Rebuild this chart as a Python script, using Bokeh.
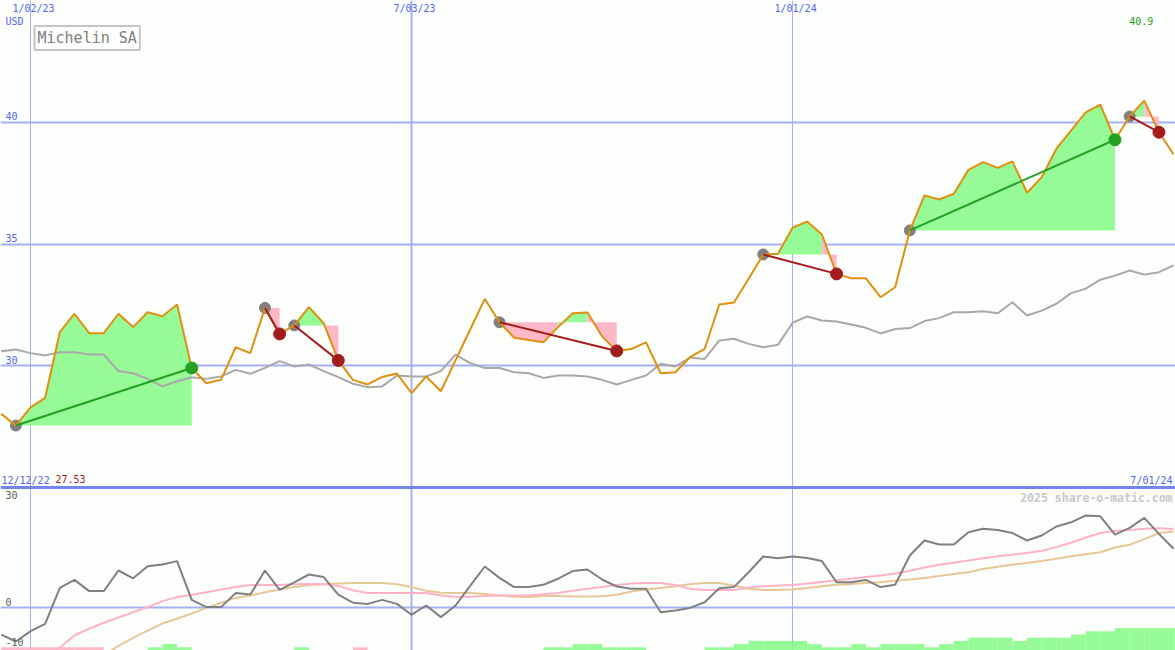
import numpy as np
import pandas as pd
from bokeh.plotting import figure
from bokeh.models import Range1d, Label
from bokeh.core.properties import value
from bokeh.embed import file_html
from bokeh.resources import INLINE

W, H = 1175, 650

# ---------------- data ----------------
start_date = "2022-12-19"
dates = pd.date_range(start_date, periods=81, freq="7D")

price = [28.01, 27.53, 28.28, 28.67, 31.37, 32.13, 31.33, 31.33, 32.13, 31.58,
         32.19, 32.03, 32.51, 29.90, 29.27, 29.41, 30.75, 30.51, 32.37, 31.30,
         31.65, 32.40, 31.74, 30.21, 29.41, 29.22, 29.53, 29.67, 28.86, 29.55,
         28.94, 30.21, 31.48, 32.74, 31.78, 31.14, 31.05, 30.96, 31.58, 32.15,
         32.18, 31.20, 30.60, 30.68, 30.95, 29.68, 29.72, 30.34, 30.68, 32.51,
         32.59, 33.57, 34.57, 34.60, 35.67, 35.93, 35.39, 33.77, 33.59, 33.59,
         32.81, 33.22, 35.56, 37.00, 36.83, 37.07, 38.05, 38.37, 38.13, 38.40,
         37.11, 37.75, 38.92, 39.67, 40.42, 40.74, 39.29, 40.25, 40.90, 39.60,
         38.68]

benchmark = [30.59, 30.66, 30.51, 30.41, 30.55, 30.55, 30.45, 30.45, 29.77, 29.68,
             29.45, 29.14, 29.35, 29.52, 29.45, 29.55, 29.82, 29.66, 29.90, 30.18,
             29.96, 30.04, 29.77, 29.52, 29.25, 29.11, 29.14, 29.59, 29.55, 29.55,
             29.77, 30.45, 30.10, 29.90, 29.90, 29.72, 29.68, 29.49, 29.59, 29.59,
             29.55, 29.41, 29.22, 29.41, 29.59, 30.07, 29.96, 30.33, 30.27, 31.03,
             31.10, 30.89, 30.75, 30.85, 31.76, 32.02, 31.85, 31.81, 31.69, 31.55,
             31.32, 31.50, 31.54, 31.83, 31.95, 32.19, 32.19, 32.23, 32.15, 32.60,
             32.06, 32.26, 32.54, 32.98, 33.16, 33.53, 33.70, 33.91, 33.74, 33.84,
             34.12]

oscillator = [-6.8, -8.5, -5.9, -4.1, 4.9, 6.9, 4.1, 4.1, 9.25, 7.3,
              10.3, 10.75, 11.6, 1.9, 0.1, 0.1, 3.6, 3.25, 9.25, 4.4,
              6.3, 8.25, 7.6, 3.2, 1.2, 0.9, 1.9, 0.9, -1.8, 0.5,
              -2.4, 0.5, 5.4, 10.25, 7.4, 5.1, 5.1, 5.7, 7.2, 9.1,
              9.5, 7.0, 5.25, 4.7, 4.7, -1.2, -0.75, -0.1, 1.3, 4.8,
              5.1, 8.8, 12.75, 12.3, 12.75, 12.4, 11.6, 6.3, 6.3, 6.9,
              5.1, 5.7, 13.0, 16.75, 15.75, 15.75, 18.8, 19.7, 19.4, 18.6,
              16.75, 18.0, 20.25, 21.3, 23.0, 22.8, 18.2, 19.9, 22.4, 18.4,
              14.7]

osc_ma_fast = [np.nan, np.nan, np.nan, -12.5, -10.0, -7.0, -5.3, -3.8, -2.5, -1.2,
               0.1, 1.6, 2.6, 3.1, 3.8, 4.5, 5.1, 5.6, 5.6, 5.6,
               5.8, 5.9, 5.9, 5.4, 4.3, 3.6, 3.6, 3.6, 3.6, 3.6,
               3.0, 2.7, 2.7, 2.9, 3.0, 3.0, 3.0, 3.3, 3.6, 4.2,
               4.7, 5.1, 5.6, 6.0, 6.1, 6.1, 5.6, 4.7, 4.4, 4.4,
               4.4, 5.0, 5.3, 5.5, 5.6, 6.0, 6.4, 6.8, 7.2, 7.6,
               8.0, 8.5, 9.2, 10.0, 10.7, 11.2, 11.75, 12.3, 12.8, 13.2,
               13.6, 14.2, 15.1, 16.2, 17.5, 18.6, 19.1, 19.4, 19.7, 19.8,
               19.6]

osc_ma_slow = [np.nan, np.nan, np.nan, np.nan, np.nan, np.nan, np.nan, -12.0, -9.6, -7.6,
               -5.8, -4.0, -2.8, -1.5, -0.1, 1.2, 2.4, 3.0, 3.8, 4.5,
               5.1, 5.6, 5.8, 6.0, 6.1, 6.1, 6.1, 5.8, 5.1, 4.2,
               3.7, 3.6, 3.6, 3.4, 3.0, 2.7, 2.6, 2.9, 2.9, 2.75,
               2.75, 2.8, 3.2, 4.0, 4.5, 4.9, 5.3, 5.8, 6.1, 6.1,
               5.5, 4.7, 4.4, 4.4, 4.5, 4.9, 5.3, 5.7, 5.9, 6.1,
               6.3, 6.7, 7.0, 7.4, 7.9, 8.4, 8.8, 9.6, 10.2, 10.7,
               11.1, 11.6, 12.2, 12.8, 13.3, 13.8, 15.0, 15.7, 17.1, 18.6,
               19.0]

signal_level = [-1, -1, -1, -1, -1, -1, -1, 0, 0, 0,
                1, 2, 1, 0, 0, 0, 0, 0, 0, 0,
                1, 0, 0, 0, -1, 0, 0, 0, 0, 0,
                0, 0, 0, 0, 0, 0, 0, 1, 1, 2,
                2, 1, 1, 1, 0, 0, 0, 0, 1, 1,
                2, 3, 3, 3, 3, 2, 1, 1, 2, 1,
                2, 2, 2, 1, 2, 3, 4, 4, 4, 3,
                4, 4, 4, 5, 6, 6, 7, 7, 7, 7,
                7]

trade_entry = [1, 18, 20, 34, 52, 62, 77]
trade_exit = [13, 19, 23, 42, 57, 76, 79]

price_ticks = [30, 35, 40]
price_tick_labels = ["30", "35", "40"]
osc_ticks = [0, -10]
osc_tick_labels = ["0", "-10"]
date_ticks = ["2023-01-02", "2023-07-03", "2024-01-01"]
date_tick_labels = ["1/02/23", "7/03/23", "1/01/24"]
period_labels = ["12/12/22", "7/01/24"]

# ---------------- style ----------------
BG = "#fcfefc"
GRID = "#a4b0f2"
SEP = "#7484ee"
BLUE_TXT = "#5564ee"
ORANGE = "#e09010"
BENCH = "#a8a8a8"
GREEN_FILL = "#96fa96"
PINK_FILL = "#ffb8c8"
WIN = "#23a023"
LOSS = "#a41c1c"
FONT = value("DejaVu Sans Mono")

DAY = 86400000
ms = (dates.asi8 // 10**6).tolist()
x0 = ms[0] - 8 * 3600 * 1000
x1 = ms[0] + int(560.9 * DAY)
tick_ms = (pd.to_datetime(date_ticks).asi8 // 10**6).tolist()

PANEL_SPLIT = 487          # pixel row of the separator
PRICE_TOP = 45.02
PRICE_BOT = PRICE_TOP - 20.04 * H / PANEL_SPLIT
OSC_TOP = 30 + 40.75 * PANEL_SPLIT / (H - PANEL_SPLIT)
SIG_TOP = H / 3.2

p = figure(width=W, height=H, x_range=Range1d(x0, x1),
           y_range=Range1d(PRICE_BOT, PRICE_TOP),
           output_backend="svg", toolbar_location=None, min_border=0,
           x_axis_location=None, y_axis_location=None,
           background_fill_color=BG, border_fill_color=BG,
           outline_line_color=None)
p.extra_y_ranges = {"osc": Range1d(-10.75, OSC_TOP), "sig": Range1d(0, SIG_TOP)}
p.grid.visible = False

# grid lines
p.hspan(y=price_ticks, line_color=GRID, line_width=2)
p.hspan(y=[0], line_color=GRID, line_width=2, y_range_name="osc")
for t, lw in zip(tick_ms, [1, 2, 1]):
    p.vspan(x=[t], line_color=GRID, line_width=lw)
p.hspan(y=[30], line_color=SEP, line_width=3, y_range_name="osc")

# signal bars (bottom strip)
bl, br, bt, bc = [], [], [], []
for k, lv in enumerate(signal_level):
    if lv != 0:
        bl.append(ms[k]); br.append(ms[k] + 7 * DAY); bt.append(abs(lv))
        bc.append(GREEN_FILL if lv > 0 else PINK_FILL)
p.quad(left=bl, right=br, bottom=0, top=bt, fill_color=bc, line_color=None,
       y_range_name="sig")

# trade fills: runs of segments coloured by where each segment ends
pxs, pys, pcs = [], [], []
for e, x in zip(trade_entry, trade_exit):
    lvl = price[e]
    k = e
    while k < x:
        up = price[k + 1] >= lvl
        j = k
        while j < x and (price[j + 1] >= lvl) == up:
            j += 1
        pxs.append([ms[k]] + ms[k:j + 1] + [ms[j]])
        pys.append([lvl] + price[k:j + 1] + [lvl])
        pcs.append(GREEN_FILL if up else PINK_FILL)
        k = j
p.patches(pxs, pys, fill_color=pcs, line_color=None)

# benchmark
p.line(ms, benchmark, line_color=BENCH, line_width=2)

# oscillator panel
p.line(ms, osc_ma_slow, line_color="#e6c896", line_width=2, y_range_name="osc")
p.line(ms, osc_ma_fast, line_color="#ffb2c6", line_width=2, y_range_name="osc")
p.line(ms, oscillator, line_color="#808080", line_width=2, y_range_name="osc")

# entry dots
p.scatter([ms[e] for e in trade_entry], [price[e] for e in trade_entry],
          size=11, color="#808080")

# price
p.line(ms, price, line_color=ORANGE, line_width=2)

# trade lines and exits
tcol = [WIN if price[x] > price[e] else LOSS for e, x in zip(trade_entry, trade_exit)]
p.segment(x0=[ms[e] for e in trade_entry], y0=[price[e] for e in trade_entry],
          x1=[ms[x] for x in trade_exit], y1=[price[x] for x in trade_exit],
          line_color=tcol, line_width=2)
p.scatter([ms[x] for x in trade_exit], [price[x] for x in trade_exit],
          size=12, color=tcol)

# ---------------- texts (all top-anchored) ----------------
fs = "10px"
common = dict(text_baseline="top", text_font=FONT, text_font_size=fs)
p.text(x=tick_ms, y=[PRICE_TOP] * 3, text=date_tick_labels, text_align="center",
       x_offset=3, y_offset=2, text_color=BLUE_TXT, **common)
p.text(x=[x0], y=[PRICE_TOP], text=["USD"], x_offset=5, y_offset=15,
       text_color=BLUE_TXT, **common)
p.text(x=[x0] * 3, y=price_ticks, text=price_tick_labels, x_offset=5,
       y_offset=-10, text_color=BLUE_TXT, **common)
imax = int(np.argmax(price))
p.text(x=[ms[imax]], y=[PRICE_TOP], text=[f"{max(price):.1f}"], text_align="center",
       x_offset=-3, y_offset=16, text_color=WIN, **common)

p.text(x=[x0], y=[30], text=[period_labels[0]], x_offset=1, y_offset=-13,
       text_color=BLUE_TXT, y_range_name="osc", **common)
p.text(x=[x0], y=[30], text=[f"{min(price):.2f}"], x_offset=55, y_offset=-13,
       text_color=LOSS, y_range_name="osc", **common)
p.text(x=[x1], y=[30], text=[period_labels[1]], text_align="right",
       x_offset=-3, y_offset=-13, text_color=BLUE_TXT, y_range_name="osc", **common)
p.text(x=[x1], y=[30], text=["2025 share-o-matic.com"], text_align="right",
       text_baseline="top", x_offset=-3, y_offset=3, text_font=FONT,
       text_font_size="11.5px", text_font_style="bold", text_color="#c8c8c8",
       y_range_name="osc")
p.text(x=[x0], y=[30], text=["30"], x_offset=5, y_offset=3,
       text_color="#606060", y_range_name="osc", **common)
p.text(x=[x0] * 2, y=osc_ticks, text=osc_tick_labels, x_offset=5, y_offset=-10,
       text_color="#606060", y_range_name="osc", **common)

mpp = (x1 - x0) / W
ppy = (PRICE_TOP - PRICE_BOT) / H
p.add_layout(Label(x=x0 + 34 * mpp, y=PRICE_TOP - 25.5 * ppy,
                   text="Michelin SA", text_font="DejaVu Sans Mono",
                   text_font_size="15px", text_color="#808080",
                   text_baseline="top", border_line_color="#c4c4c4",
                   border_line_width=2, background_fill_color=BG, padding=3))

open("out.html", "w").write(file_html(p, INLINE))
